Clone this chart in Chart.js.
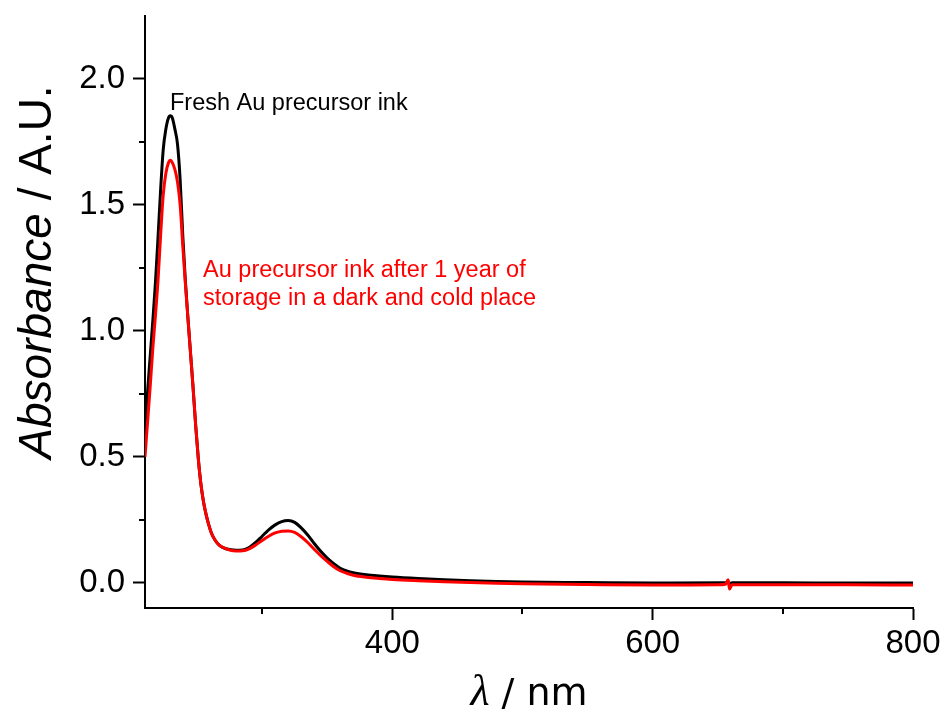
<!DOCTYPE html>
<html><head><meta charset="utf-8">
<script src="https://cdn.jsdelivr.net/npm/chart.js@4/dist/chart.umd.min.js"></script>
<style>html,body{margin:0;padding:0;background:#fff}#wrap{width:946px;height:713px}</style>
</head><body><div id="wrap"><canvas id="c" width="946" height="713"></canvas></div>
<script>
// ---- data ----
const freshNm = [210,212,214,216,218,220,222,224,226,228,229.5,231,233,235,237,239,241,243,245,247,249,251,253,255,257,259,261,264,267,270,275,280,285,290,295,300,305,310,315,320,325,330,335,340,345,350,355,360,365,370,380,390,400,420,440,460,480,500,550,600,656,658,659,661,700,750,800];
const freshAbs = [0.62,0.76,0.90,1.04,1.19,1.37,1.56,1.72,1.80,1.845,1.854,1.845,1.80,1.74,1.60,1.38,1.20,1.05,0.91,0.77,0.62,0.49,0.39,0.32,0.27,0.23,0.198,0.168,0.15,0.14,0.132,0.129,0.13,0.14,0.16,0.185,0.21,0.23,0.243,0.247,0.24,0.218,0.19,0.156,0.125,0.098,0.076,0.058,0.047,0.04,0.032,0.027,0.023,0.017,0.012,0.008,0.005,0.003,0.001,-0.001,0.0,0.005,-0.004,0.0,0.0,-0.001,-0.001];
const agedNm = [210,212,214,216,218,220,222,224,226,228,229.6,231,233,235,237,239,241,243,245,247,249,251,253,255,257,259,261,264,267,270,275,280,285,290,295,300,305,310,315,320,325,330,335,340,345,350,355,360,365,370,380,390,400,420,440,460,480,500,550,600,650,656,658,659,661,700,750,800];
const agedAbs = [0.50,0.64,0.78,0.93,1.06,1.20,1.38,1.54,1.625,1.667,1.677,1.668,1.64,1.59,1.50,1.34,1.19,1.05,0.91,0.77,0.62,0.49,0.39,0.32,0.27,0.23,0.198,0.168,0.15,0.14,0.13,0.126,0.127,0.135,0.15,0.168,0.185,0.198,0.205,0.206,0.2,0.183,0.16,0.133,0.108,0.085,0.064,0.048,0.038,0.03,0.022,0.017,0.013,0.008,0.004,0.001,-0.002,-0.004,-0.007,-0.009,-0.008,-0.006,0.012,-0.025,-0.008,-0.008,-0.008,-0.009];
const xMajorTicks = [400, 600, 800];
const xMinorTicks = [300, 500, 700];
const yMajorTicks = [0.0, 0.5, 1.0, 1.5, 2.0];
const yMinorTicks = [0.25, 0.75, 1.25, 1.75];
const freshLabel = 'Fresh Au precursor ink';
const agedLabel = ['Au precursor ink after 1 year of', 'storage in a dark and cold place'];
const yTitleItalic = 'Absorbance';
const yTitleRest = ' / A.U.';
const xTitleSymbol = 'λ';
const xTitleRest = ' / nm';

// label anchors in data coordinates
const freshLabelAt = {x: 229.2, y: 1.877};
const agedLabelAt = {x: 254.6, y: 1.212};

const toPts = (xs, ys) => xs.map((x, i) => ({x, y: ys[i]}));

const overlay = {
  id: 'overlay',
  afterDraw(chart) {
    const {ctx, chartArea, scales} = chart;
    const xs = scales.x, ys = scales.y;
    ctx.save();
    ctx.strokeStyle = '#000';
    ctx.lineWidth = 2;
    ctx.beginPath();
    xMinorTicks.forEach(v => {
      const p = Math.round(xs.getPixelForValue(v));
      ctx.moveTo(p, chartArea.bottom); ctx.lineTo(p, chartArea.bottom + 6);
    });
    yMinorTicks.forEach(v => {
      const p = Math.round(ys.getPixelForValue(v));
      ctx.moveTo(chartArea.left - 6, p); ctx.lineTo(chartArea.left, p);
    });
    ctx.stroke();

    // annotations
    ctx.textBaseline = 'alphabetic';
    ctx.textAlign = 'left';
    ctx.font = '23.5px "Liberation Sans", Arial, sans-serif';
    ctx.fillStyle = '#000';
    ctx.fillText(freshLabel, xs.getPixelForValue(freshLabelAt.x), ys.getPixelForValue(freshLabelAt.y));
    ctx.fillStyle = '#ff0000';
    const ax = xs.getPixelForValue(agedLabelAt.x), ay = ys.getPixelForValue(agedLabelAt.y);
    agedLabel.forEach((t, i) => ctx.fillText(t, ax, ay + i * 28));

    // y title
    ctx.fillStyle = '#000';
    ctx.save();
    ctx.translate(51, 272);
    ctx.rotate(-Math.PI / 2);
    const fI = 'italic 46px "Liberation Sans", Arial, sans-serif';
    const fN = '46px "Liberation Sans", Arial, sans-serif';
    ctx.font = fI; const w1 = ctx.measureText(yTitleItalic).width;
    ctx.font = fN; const w2 = ctx.measureText(yTitleRest).width;
    let sx = -(w1 + w2) / 2;
    ctx.font = fI; ctx.fillText(yTitleItalic, sx, 0);
    ctx.font = fN; ctx.fillText(yTitleRest, sx + w1, 0);
    ctx.restore();

    // x title
    const fL = 'italic 44px "Liberation Serif", "DejaVu Serif", serif';
    const fS = '38px "DejaVu Sans", sans-serif';
    ctx.font = fL; const l1 = ctx.measureText(xTitleSymbol).width;
    ctx.font = fS; const l2 = ctx.measureText(xTitleRest).width;
    const cx = (chartArea.left + chartArea.right) / 2;
    let tx = cx - (l1 + l2) / 2;
    ctx.font = fL; ctx.fillText(xTitleSymbol, tx, 705);
    ctx.font = fS; ctx.fillText(xTitleRest, tx + l1, 705);
    ctx.restore();
  }
};

const tickFont = {family: '"Liberation Sans", Arial, sans-serif', size: 33};

new Chart(document.getElementById('c'), {
  type: 'line',
  data: {
    datasets: [
      {label: 'aged', data: toPts(agedNm, agedAbs), borderColor: '#ff0000', borderWidth: 3, pointRadius: 0, cubicInterpolationMode: 'monotone', fill: false, order: 0},
      {label: 'fresh', data: toPts(freshNm, freshAbs), borderColor: '#000000', borderWidth: 3, pointRadius: 0, cubicInterpolationMode: 'monotone', fill: false, order: 1}
    ]
  },
  options: {
    responsive: false,
    animation: false,
    devicePixelRatio: 1,
    layout: {padding: {left: 0, top: 16, right: 33, bottom: 0}},
    plugins: {legend: {display: false}, tooltip: {enabled: false}},
    scales: {
      x: {
        type: 'linear', min: 210, max: 800,
        afterBuildTicks: s => { s.ticks = xMajorTicks.map(v => ({value: v})); },
        afterFit: s => { s.height = 105; s.paddingLeft = 0; s.paddingRight = 0; },
        grid: {display: true, drawOnChartArea: false, drawTicks: true, tickLength: 12, tickWidth: 2, tickColor: '#000'},
        border: {display: true, color: '#000', width: 2},
        ticks: {font: tickFont, color: '#000', padding: 4, maxRotation: 0, autoSkip: false, callback: v => String(v)}
      },
      y: {
        type: 'linear', min: -0.1, max: 2.25,
        afterBuildTicks: s => { s.ticks = yMajorTicks.map(v => ({value: v})); },
        afterFit: s => { s.width = 145; s.paddingTop = 0; s.paddingBottom = 0; },
        grid: {display: true, drawOnChartArea: false, drawTicks: true, tickLength: 12, tickWidth: 2, tickColor: '#000'},
        border: {display: true, color: '#000', width: 2},
        ticks: {font: tickFont, color: '#000', padding: 8, autoSkip: false, callback: v => Number(v).toFixed(1)}
      }
    }
  },
  plugins: [overlay]
});
</script>
</body></html>
